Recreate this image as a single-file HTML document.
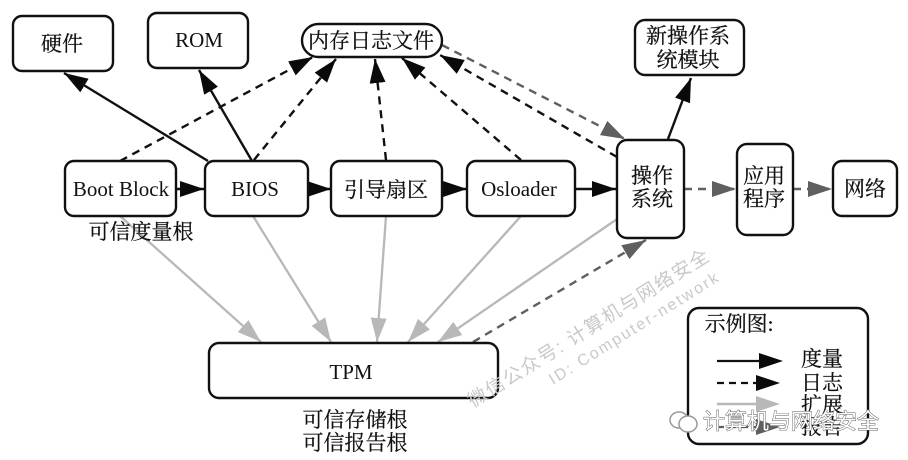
<!DOCTYPE html>
<html><head><meta charset="utf-8"><style>
html,body{margin:0;padding:0;background:#fff}
svg{display:block}
text{font-family:"Liberation Serif","Noto Serif CJK SC",serif;fill:#111;text-anchor:middle}
.c{font-size:21px;stroke:#111;stroke-width:.25}.l{font-size:21px}
.b{fill:#fff;stroke:#111;stroke-width:2.4}
.w{font-family:"Liberation Sans","Noto Sans CJK SC",sans-serif;fill:#c9c9c9;text-anchor:start}
</style></head><body>
<svg width="908" height="460" viewBox="0 0 908 460" xmlns="http://www.w3.org/2000/svg">
<defs>
<marker id="k" markerUnits="userSpaceOnUse" markerWidth="26" markerHeight="20" refX="24" refY="10" orient="auto"><path d="M0 2L24 10L0 18z" fill="#0a0a0a"/></marker>
<marker id="g" markerUnits="userSpaceOnUse" markerWidth="26" markerHeight="20" refX="24" refY="10" orient="auto"><path d="M0 2L24 10L0 18z" fill="#5f5f5f"/></marker>
<marker id="l" markerUnits="userSpaceOnUse" markerWidth="26" markerHeight="20" refX="24" refY="10" orient="auto"><path d="M0 2L24 10L0 18z" fill="#b8b8b8"/></marker>
</defs>

<g fill="none" stroke="#b8b8b8" stroke-width="2.3" marker-end="url(#l)">
<path d="M120 216L261 342"/><path d="M253 216L331 342"/><path d="M386 216L377 342"/><path d="M521 216L408 342"/><path d="M620 217L438 342"/>
</g>
<g fill="none" stroke="#111" stroke-width="2.4" marker-end="url(#k)">
<path d="M208 161L64 73"/><path d="M252 161L199 70"/><path d="M176 189L204 189"/><path d="M308 189L331 189"/><path d="M442 189L467 189"/><path d="M575 189L616 189"/><path d="M668 139L691 78"/>
</g>
<g fill="none" stroke="#111" stroke-width="2.4" stroke-dasharray="8 6" marker-end="url(#k)">
<path d="M120 161L313 57"/><path d="M254 160L336 59"/><path d="M386 160L375 59"/><path d="M521 160L402 58"/><path d="M617 157L440 55"/>
</g>
<g fill="none" stroke="#5f5f5f" stroke-width="2.4" stroke-dasharray="8 6" marker-end="url(#g)">
<path d="M442 45L625 139"/><path d="M684 189L736 189"/><path d="M793 189L832 189"/><path d="M473 342L646 240"/>
</g>

<rect class="b" x="13" y="16" width="100" height="55" rx="9"/>
<rect class="b" x="148" y="13" width="100" height="55" rx="9"/>
<rect class="b" x="302" y="24" width="140" height="33" rx="16.5"/>
<rect class="b" x="635" y="20" width="109" height="55" rx="10"/>
<rect class="b" x="65" y="161" width="111" height="55" rx="9"/>
<rect class="b" x="205" y="161" width="103" height="55" rx="9"/>
<rect class="b" x="331" y="161" width="111" height="55" rx="9"/>
<rect class="b" x="467" y="161" width="108" height="55" rx="9"/>
<rect class="b" x="617" y="140" width="67" height="98" rx="10"/>
<rect class="b" x="737" y="144" width="56" height="91" rx="10"/>
<rect class="b" x="833" y="161" width="64" height="55" rx="9"/>
<rect class="b" x="209" y="343" width="289" height="55" rx="10"/>
<rect class="b" x="688" y="308" width="180" height="136" rx="11"/>

<text class="c" x="62" y="51">硬件</text>
<text class="l" x="199" y="47">ROM</text>
<text class="c" x="371" y="48">内存日志文件</text>
<text class="c" x="688" y="43">新操作系</text>
<text class="c" x="688" y="67">统模块</text>
<text class="l" x="121" y="196">Boot Block</text>
<text class="l" x="255" y="196">BIOS</text>
<text class="c" x="386" y="197">引导扇区</text>
<text class="l" x="519" y="196">Osloader</text>
<text class="c" x="652" y="183">操作</text>
<text class="c" x="652" y="206">系统</text>
<text class="c" x="764" y="183">应用</text>
<text class="c" x="764" y="206">程序</text>
<text class="c" x="865" y="196">网络</text>
<text class="c" x="141" y="239">可信度量根</text>
<text class="l" x="351" y="379">TPM</text>
<text class="c" x="355" y="427">可信存储根</text>
<text class="c" x="355" y="450">可信报告根</text>

<text class="c" x="739" y="331">示例图:</text>
<path d="M717 361H765" stroke="#111" stroke-width="2.2"/><path d="M759 353L783 361L759 369z" fill="#0a0a0a"/>
<path d="M717 383H760" stroke="#111" stroke-width="2.2" stroke-dasharray="7 5"/><path d="M756 375L780 383L756 391z" fill="#0a0a0a"/>
<path d="M717 404H762" stroke="#b8b8b8" stroke-width="2.5"/><path d="M756 396L780 404L756 412z" fill="#b8b8b8"/>
<path d="M717 427H762" stroke="#5f5f5f" stroke-width="2.2" stroke-dasharray="7 5"/><path d="M756 419L780 427L756 435z" fill="#5f5f5f"/>
<text class="c" x="822" y="366">度量</text>
<text class="c" x="822" y="390">日志</text>
<text class="c" x="822" y="412">扩展</text>
<text class="c" x="822" y="434">报告</text>

<text class="w" font-size="19" letter-spacing="1.6" transform="translate(473 408) rotate(-32)">微信公众号: 计算机与网络安全</text>
<text class="w" font-size="16" letter-spacing="2.1" transform="translate(553 385) rotate(-32)">ID: Computer-network</text>

<ellipse cx="679" cy="420" rx="9" ry="8" fill="#fff" stroke="#999" stroke-width="1.5"/>
<ellipse cx="688" cy="424" rx="9" ry="8" fill="#fff" stroke="#999" stroke-width="1.5"/>
<text x="791" y="429" font-size="22" style="font-family:'Liberation Sans','Noto Sans CJK SC',sans-serif;fill:#fff;stroke:#555;stroke-width:.9;paint-order:stroke">计算机与网络安全</text>
</svg>
</body></html>
